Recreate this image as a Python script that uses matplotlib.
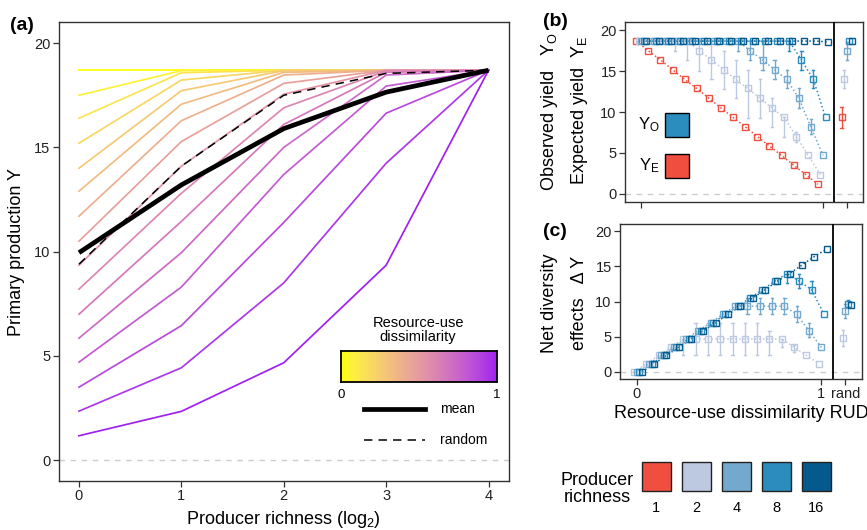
import numpy as np
import matplotlib
matplotlib.use("Agg")
import matplotlib.pyplot as plt
import matplotlib.colors as mcolors
from matplotlib.patches import Rectangle
from matplotlib.lines import Line2D

plt.rcParams['font.family'] = ['Liberation Sans', 'DejaVu Sans']
plt.rcParams['mathtext.fontset'] = 'custom'
plt.rcParams['mathtext.rm'] = 'Liberation Sans'
plt.rcParams['mathtext.it'] = 'Liberation Sans:italic'

# -----------------------------
# DATA
# -----------------------------
# panel (a): one line per resource-use dissimilarity level, values per richness (log2 = 0..4)
richness_log2 = [0, 1, 2, 3, 4]
rud_levels = [0.000, 0.067, 0.133, 0.200, 0.267, 0.333, 0.400, 0.467,
              0.533, 0.600, 0.667, 0.733, 0.800, 0.867, 0.933, 1.000]
ya_1 = [18.7, 17.5, 16.4, 15.2, 14.0, 12.9, 11.7, 10.5, 9.35, 8.2, 7.0, 5.85, 4.7, 3.5, 2.35, 1.17]
ya_2 = [18.7, 18.68, 18.58, 18.23, 17.72, 17.07, 16.28, 15.28, 14.1, 12.8, 11.45, 9.95, 8.3, 6.45, 4.43, 2.34]
ya_4 = [18.7, 18.7, 18.7, 18.7, 18.68, 18.6, 18.47, 18.07, 17.55, 16.9, 16.1, 15.0, 13.7, 11.4, 8.5, 4.67]
ya_8 = [18.7, 18.7, 18.7, 18.7, 18.7, 18.7, 18.7, 18.7, 18.7, 18.67, 18.6, 18.47, 17.94, 16.64, 14.24, 9.35]
ya_16 = [18.7, 18.7, 18.7, 18.7, 18.7, 18.7, 18.7, 18.7, 18.7, 18.7, 18.7, 18.7, 18.7, 18.7, 18.7, 18.7]
ya_mean = [9.95, 13.2, 15.9, 17.65, 18.7]
ya_random = [9.4, 14.1, 17.5, 18.55, 18.7]

# panel (b): observed / expected yield per richness
richness = [1, 2, 4, 8, 16]
yb_1 = [18.7, 17.5, 16.4, 15.2, 14.0, 12.9, 11.7, 10.5, 9.35, 8.2, 7.0, 5.85, 4.7, 3.5, 2.35, 1.17]
yb_2 = [18.7, 18.7, 18.7, 18.7, 18.7, 17.5, 16.4, 15.2, 14.0, 12.9, 11.7, 10.5, 9.35, 7.0, 4.7, 2.35]
yb_4 = [18.7, 18.7, 18.7, 18.7, 18.7, 18.7, 18.7, 18.7, 18.7, 17.5, 16.4, 15.2, 14.0, 11.7, 8.2, 4.7]
yb_8 = [18.7, 18.7, 18.7, 18.7, 18.7, 18.7, 18.7, 18.7, 18.7, 18.7, 18.7, 18.7, 18.7, 16.4, 14.0, 9.35]
yb_16 = [18.7, 18.7, 18.7, 18.7, 18.7, 18.7, 18.7, 18.7, 18.7, 18.7, 18.7, 18.7, 18.7, 18.7, 18.7, 18.6]
# error bars: (level index, low, high)
bars_b_2 = [(3, 17.5, 18.7), (4, 16.4, 18.7), (5, 15.0, 18.7), (6, 14.0, 18.7), (7, 12.8, 17.5),
            (8, 11.7, 16.4), (9, 9.3, 15.2), (10, 9.3, 14.0), (11, 8.2, 11.7), (12, 7.0, 9.35), (13, 6.4, 7.6)]
bars_b_4 = [(8, 17.5, 18.7), (9, 16.4, 18.7), (10, 15.2, 18.7), (11, 14.0, 16.4), (12, 12.9, 15.2),
            (13, 10.5, 12.9), (14, 7.3, 9.2)]
bars_b_8 = [(12, 17.5, 18.7), (13, 15.2, 17.5), (14, 12.9, 15.2)]
rand_b = [9.35, 14.0, 17.5, 18.65, 18.7]
rand_b_lo = [8.1, 13.0, 16.4, None, None]
rand_b_hi = [10.6, 15.2, 18.6, None, None]

# panel (c): net diversity effects per richness
yc_2 = [0, 1.17, 2.35, 3.5, 4.7, 4.7, 4.7, 4.7, 4.7, 4.7, 4.7, 4.7, 4.7, 3.5, 2.35, 1.17]
yc_4 = [0, 1.17, 2.35, 3.5, 4.7, 5.85, 7.0, 8.2, 9.35, 9.35, 9.35, 9.35, 9.35, 8.2, 5.85, 3.5]
yc_8 = [0, 1.17, 2.35, 3.5, 4.7, 5.85, 7.0, 8.2, 9.35, 10.5, 11.7, 12.9, 14.0, 12.9, 11.7, 8.2]
yc_16 = [0, 1.17, 2.35, 3.5, 4.7, 5.85, 7.0, 8.2, 9.35, 10.5, 11.7, 12.9, 14.0, 15.2, 16.4, 17.45]
bars_c_2 = [(4, 2.35, 4.7), (5, 2.35, 7.0), (6, 2.35, 7.0), (7, 2.35, 7.0), (8, 2.35, 7.0),
            (9, 2.35, 7.0), (10, 2.35, 7.0), (11, 2.35, 5.85), (12, 3.5, 4.7), (13, 2.8, 3.9)]
bars_c_4 = [(9, 8.2, 10.5), (10, 8.2, 10.5), (11, 8.2, 10.5), (12, 8.2, 10.5), (13, 7.1, 9.4), (14, 5.0, 6.9)]
bars_c_8 = [(12, 12.6, 14.0), (13, 12.0, 14.0), (14, 11.3, 12.9)]
rand_c = [None, 4.8, 8.7, 9.7, 9.5]
rand_c_lo = [None, 3.7, 7.7, 9.3, None]
rand_c_hi = [None, 6.0, 9.6, 10.2, None]

# -----------------------------
# STYLE
# -----------------------------
W, H = 867, 530
COLS = {1: '#F04E3F', 2: '#BDC9E1', 4: '#74A9CF', 8: '#2B8CBE', 16: '#045A8D'}
DODGE = {1: -0.028, 2: -0.014, 4: 0.0, 8: 0.014, 16: 0.028}
RAND_X = 1.13
SEP_X = 1.0625

M = np.array([[0.4124, 0.3576, 0.1805], [0.2126, 0.7152, 0.0722], [0.0193, 0.1192, 0.9505]])
WHITE = np.array([0.95047, 1.0, 1.08883])


def to_lab(c):
    rgb = np.array(mcolors.to_rgb(c))
    lin = np.where(rgb <= 0.04045, rgb / 12.92, ((rgb + 0.055) / 1.055) ** 2.4)
    xyz = M @ lin / WHITE
    f = np.where(xyz > 0.008856, np.cbrt(xyz), 7.787 * xyz + 16 / 116)
    return np.array([116 * f[1] - 16, 500 * (f[0] - f[1]), 200 * (f[1] - f[2])])


def from_lab(lab):
    fy_ = (lab[0] + 16) / 116
    f = np.array([fy_ + lab[1] / 500, fy_, fy_ - lab[2] / 200])
    xyz = np.where(f ** 3 > 0.008856, f ** 3, (f - 16 / 116) / 7.787) * WHITE
    lin = np.clip(np.linalg.inv(M) @ xyz, 0, None)
    rgb = np.where(lin <= 0.0031308, 12.92 * lin, 1.055 * lin ** (1 / 2.4) - 0.055)
    return np.clip(rgb, 0, 1)


# yellow -> purple gradient, interpolated in Lab like ggplot
lab_lo, lab_hi = to_lab('#FFFF00'), to_lab('#A020F0')
cmap = mcolors.ListedColormap([from_lab(lab_lo + t * (lab_hi - lab_lo)) for t in np.linspace(0, 1, 256)])


def fx(px):
    return px / W


def fy(py):
    return 1 - py / H


def box(l, t, r, b):
    return [fx(l), fy(b), fx(r) - fx(l), fy(t) - fy(b)]


def style_axes(ax):
    for s in ax.spines.values():
        s.set_color('#333333')
        s.set_linewidth(1.0)
    ax.tick_params(direction='out', length=4, width=0.9, color='#333333',
                   labelsize=10.5, labelcolor='#222222', pad=2)
    ax.axhline(0, color='#cccccc', ls=(0, (4, 4)), lw=1, zorder=0)


fig = plt.figure(figsize=(W / 100, H / 100), dpi=100)

# -----------------------------
# PANEL (a)
# -----------------------------
ax_a = fig.add_axes(box(58.5, 22.3, 509, 481))
style_axes(ax_a)
lines = np.array([ya_1, ya_2, ya_4, ya_8, ya_16]).T
for k, row in enumerate(lines):
    ax_a.plot(richness_log2, row, color=cmap(rud_levels[k]), lw=1.25, zorder=2)
ax_a.plot(richness_log2, ya_mean, color='black', lw=3.4, zorder=4, solid_capstyle='butt')
ax_a.plot(richness_log2, ya_random, color='black', lw=1.1, ls=(0, (5.5, 4)), zorder=3)
ax_a.set_xlim(-0.2, 4.2)
ax_a.set_ylim(-1, 21)
ax_a.set_xticks(richness_log2)
ax_a.set_yticks([0, 5, 10, 15, 20])
ax_a.set_xlabel('Producer richness (log$_2$)', fontsize=13, labelpad=4)
ax_a.set_ylabel('Primary production Y', fontsize=13, labelpad=6)
fig.text(fx(10), fy(25), '(a)', fontsize=14, fontweight='bold', va='center', ha='left')

# colour legend inside panel (a)
cax = fig.add_axes(box(341, 351, 497, 382))
cax.imshow(np.linspace(0, 1, 256)[None, :], aspect='auto', cmap=cmap, extent=[0, 1, 0, 1])
cax.set_xticks([])
cax.set_yticks([])
for s in cax.spines.values():
    s.set_linewidth(1.3)
fig.text(fx(418), fy(330), 'Resource-use\ndissimilarity', fontsize=10.5, ha='center', va='center',
         linespacing=1.0)
fig.text(fx(341), fy(395), '0', fontsize=9.5, ha='center', va='center')
fig.text(fx(497), fy(395), '1', fontsize=9.5, ha='center', va='center')
fig.add_artist(Line2D([fx(364), fx(425)], [fy(409), fy(409)], color='black', lw=3.4))
fig.add_artist(Line2D([fx(364), fx(425)], [fy(440), fy(440)], color='black', lw=1.1, ls=(0, (5.5, 4))))
fig.text(fx(440), fy(409), 'mean', fontsize=10, ha='left', va='center')
fig.text(fx(440), fy(440), 'random', fontsize=10, ha='left', va='center')


# -----------------------------
# PANELS (b) and (c)
# -----------------------------
def draw_series(ax, n, values, bars, show_line=True):
    x = np.array(rud_levels) + DODGE[n]
    c = COLS[n]
    for k, lo, hi in bars:
        ax.plot([x[k], x[k]], [lo, hi], color=c, lw=1.0, zorder=2)
        ax.plot([x[k] - 0.006, x[k] + 0.006], [lo, lo], color=c, lw=1.0, zorder=2)
        ax.plot([x[k] - 0.006, x[k] + 0.006], [hi, hi], color=c, lw=1.0, zorder=2)
    if show_line:
        ax.plot(x, values, color=c, lw=1.1, ls=(0, (1, 1.6)), zorder=2)
    ax.plot(x, values, ls='none', marker='s', ms=3.8, mfc='none', mec=c, mew=1.0, zorder=3)


def draw_rand(ax, vals, lo, hi):
    for n, v, l, h in zip(richness, vals, lo, hi):
        if v is None:
            continue
        x = RAND_X + DODGE[n]
        if l is not None:
            ax.plot([x, x], [l, h], color=COLS[n], lw=1.0, zorder=2)
            ax.plot([x - 0.006, x + 0.006], [l, l], color=COLS[n], lw=1.0, zorder=2)
            ax.plot([x - 0.006, x + 0.006], [h, h], color=COLS[n], lw=1.0, zorder=2)
        ax.plot([x], [v], ls='none', marker='s', ms=3.8, mfc='none', mec=COLS[n], mew=1.0, zorder=3)


ax_b = fig.add_axes(box(625, 22.3, 863, 202))
style_axes(ax_b)
for n, vals, bars in [(1, yb_1, []), (2, yb_2, bars_b_2), (4, yb_4, bars_b_4),
                      (8, yb_8, bars_b_8), (16, yb_16, [])]:
    draw_series(ax_b, n, vals, bars)
draw_rand(ax_b, rand_b, rand_b_lo, rand_b_hi)
ax_b.axvline(SEP_X, color='black', lw=1.3, zorder=4)
ax_b.set_xlim(-0.09, 1.22)
ax_b.set_ylim(-1, 21)
ax_b.set_xticks([0, 1, RAND_X])
ax_b.set_xticklabels([])
ax_b.set_yticks([0, 5, 10, 15, 20])

ax_c = fig.add_axes(box(620, 224.3, 862, 379))
style_axes(ax_c)
for n, vals, bars in [(2, yc_2, bars_c_2), (4, yc_4, bars_c_4), (8, yc_8, bars_c_8), (16, yc_16, [])]:
    draw_series(ax_c, n, vals, bars)
draw_rand(ax_c, rand_c, rand_c_lo, rand_c_hi)
ax_c.axvline(SEP_X, color='black', lw=1.3, zorder=4)
ax_c.set_xlim(-0.09, 1.22)
ax_c.set_ylim(-1, 21)
ax_c.set_xticks([0, 1, RAND_X])
ax_c.set_xticklabels(['0', '1', 'rand'])
ax_c.set_yticks([0, 5, 10, 15, 20])
ax_c.set_xlabel('Resource-use dissimilarity RUD', fontsize=13, labelpad=3)

# panel tags and two-part axis titles
fig.text(fx(543), fy(22), '(b)', fontsize=14, fontweight='bold', va='center', ha='left')
fig.text(fx(543), fy(231), '(c)', fontsize=14, fontweight='bold', va='center', ha='left')
fig.text(fx(550), fy(112), r'Observed yield   Y$_\mathrm{O}$', fontsize=13, rotation=90, ha='center', va='center')
fig.text(fx(579), fy(110), r'Expected yield  Y$_\mathrm{E}$', fontsize=13, rotation=90, ha='center', va='center')
fig.text(fx(550), fy(303), 'Net diversity', fontsize=13, rotation=90, ha='center', va='center')
fig.text(fx(579), fy(303), 'effects   Δ Y', fontsize=13, rotation=90, ha='center', va='center')

# Y_O / Y_E legend inside panel (b)
fig.add_artist(Rectangle((fx(665), fy(137)), fx(24), 24 / H, facecolor=COLS[8], edgecolor='black', lw=1.0))
fig.add_artist(Rectangle((fx(665), fy(178)), fx(24), 24 / H, facecolor=COLS[1], edgecolor='black', lw=1.0))
fig.text(fx(649), fy(125), r'Y$_\mathrm{O}$', fontsize=12, ha='center', va='center')
fig.text(fx(649), fy(166), r'Y$_\mathrm{E}$', fontsize=12, ha='center', va='center')

# producer richness legend
fig.text(fx(597), fy(489), 'Producer\nrichness', fontsize=13, ha='center', va='center', linespacing=1.05)
for i, n in enumerate(richness):
    left = 641.7 + 40 * i
    fig.add_artist(Rectangle((fx(left), fy(491)), fx(29), 29 / H, facecolor=COLS[n],
                             edgecolor='#222222', lw=1.0))
    fig.text(fx(left + 14.5), fy(508), str(n), fontsize=10.5, ha='center', va='center')

fig.savefig('out.png', dpi=100)
